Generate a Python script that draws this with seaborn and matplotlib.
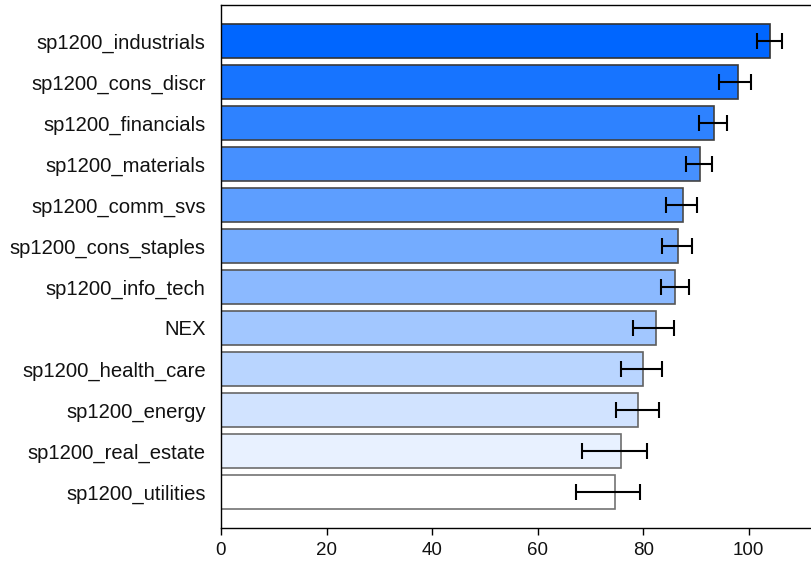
import numpy as np
import pandas as pd
import matplotlib
matplotlib.use("Agg")
import matplotlib.pyplot as plt
import seaborn as sns

categories = ["sp1200_industrials", "sp1200_cons_discr", "sp1200_financials",
              "sp1200_materials", "sp1200_comm_svs", "sp1200_cons_staples",
              "sp1200_info_tech", "NEX", "sp1200_health_care", "sp1200_energy",
              "sp1200_real_estate", "sp1200_utilities"]
values = [104.1, 97.9, 93.4, 90.8, 87.6, 86.6, 86.1, 82.4, 79.9, 79.1, 75.8, 74.6]
ci_low = [101.6, 94.3, 90.6, 88.2, 84.4, 83.5, 83.3, 78.1, 75.8, 74.8, 68.4, 67.2]
ci_high = [106.3, 100.5, 95.9, 93.0, 90.3, 89.2, 88.7, 85.9, 83.5, 83.0, 80.8, 79.4]
xticks = [0, 20, 40, 60, 80, 100]

sns.set_theme(style="white")
plt.rcParams['font.family'] = ['Liberation Sans', 'DejaVu Sans']

n = len(categories)
base = np.array([0x00, 0x66, 0xFF]) / 255.0
fills = [tuple(base + (1 - base) * (i / (n - 1))) for i in range(n)]
edges = [(0.2 + 0.25 * i / (n - 1),) * 3 for i in range(n)]

df = pd.DataFrame({"cat": categories, "val": values})

fig = plt.figure(figsize=(8.12, 5.64), dpi=100)
ax = fig.add_axes([221 / 812, 1 - 528 / 564, 1 - 221 / 812, (528 - 5) / 564])

sns.barplot(data=df, y="cat", x="val", hue="cat", palette=fills, legend=False,
            errorbar=None, width=0.83, saturation=1, ax=ax,
            order=categories, hue_order=categories)
for patch, ec in zip(ax.patches, edges):
    patch.set_edgecolor(ec)
    patch.set_linewidth(1.2)

vals = np.array(values)
xerr = np.vstack([vals - np.array(ci_low), np.array(ci_high) - vals])
ax.errorbar(vals, np.arange(n), xerr=xerr, fmt="none", ecolor="black",
            elinewidth=1.5, capsize=6, capthick=1.5, zorder=5)

ax.set_xlim(0, 112)
ax.set_ylim(n - 1 + 0.88, -0.88)
ax.set_xticks(xticks)
ax.set_xticklabels([str(t) for t in xticks])
ax.set_xlabel("")
ax.set_ylabel("")
ax.tick_params(axis="x", bottom=True, length=5, width=1, color="black",
               labelsize=13.5, pad=5, labelcolor="#111111")
ax.tick_params(axis="y", left=False, length=0, labelsize=14.6, pad=11,
               labelcolor="#111111")
for side in ["left", "bottom", "top"]:
    ax.spines[side].set_visible(True)
    ax.spines[side].set_color("black")
    ax.spines[side].set_linewidth(1)
ax.spines["right"].set_visible(False)

fig.savefig("out.png", dpi=100)
